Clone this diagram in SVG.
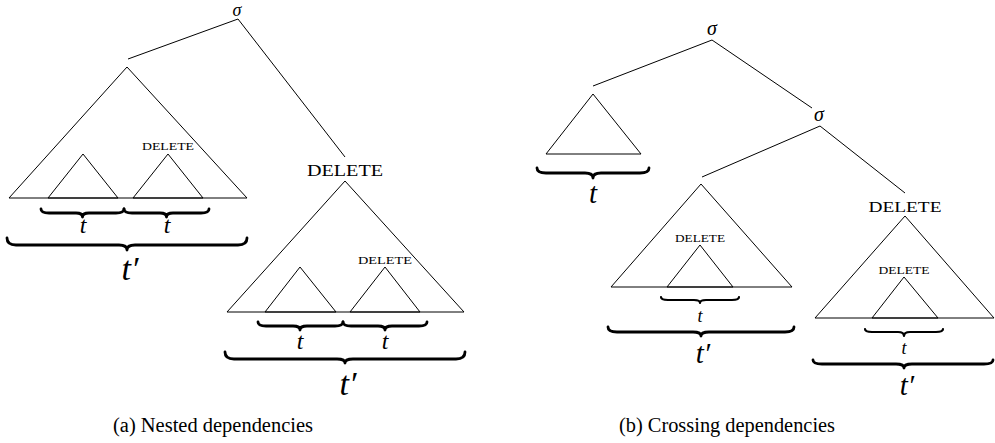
<svg xmlns="http://www.w3.org/2000/svg" width="995" height="443" viewBox="0 0 995 443">
  <style>
    .edge { stroke: #000; stroke-width: 1; fill: none; }
    .tri { stroke: #000; stroke-width: 1; fill: none; stroke-linejoin: miter; }
    .brace { stroke: #000; stroke-width: 2.8; fill: none; stroke-linecap: round; stroke-linejoin: round; }
    .brace-s { stroke: #000; stroke-width: 2.2; fill: none; stroke-linecap: round; stroke-linejoin: round; }
    .math { font-family: "Liberation Serif", "DejaVu Serif", serif; font-style: italic; fill: #000; text-anchor: middle; }
    .sc { font-family: "Liberation Serif", "DejaVu Serif", serif; fill: #000; text-anchor: middle; }
    .cap { font-family: "Liberation Serif", "DejaVu Serif", serif; font-size: 20px; fill: #000; }
  </style>

  <!-- ===== (a) nested dependencies ===== -->
  <g id="a-root">
    <text class="math" x="237" y="16" font-size="18">σ</text>
  </g>
  <g id="a-left-subtree">
    <polygon class="tri" points="127,67 9,198 247,198"/>
    <polygon class="tri" points="83,154 48,198 118,198"/>
    <text class="sc" x="168" y="150" font-size="11" textLength="52" lengthAdjust="spacingAndGlyphs">DELETE</text>
    <polygon class="tri" points="168,154 133,198 203,198"/>
  </g>
  <g id="a-left-braces">
    <path class="brace" d="M41,209 Q41,213 49,213 L76,213 Q82.5,213 82.5,217 Q82.5,213 89,213 L116,213 Q124,213 124,209"/>
    <path class="brace" d="M124,209 Q124,213 132,213 L160,213 Q166.5,213 166.5,217 Q166.5,213 173,213 L201,213 Q209,213 209,209"/>
    <text class="math" x="83" y="233" font-size="24">t</text>
    <text class="math" x="167" y="233" font-size="24">t</text>
    <path class="brace" d="M7,238 Q7,245 16,245 L119,245 Q127,245 127,250 Q127,245 135,245 L238,245 Q247,245 247,238"/>
    <text class="math" x="130" y="280" font-size="34">t′</text>
  </g>
  <g id="a-right-subtree">
    <text class="sc" x="345" y="176" font-size="16" textLength="76" lengthAdjust="spacingAndGlyphs">DELETE</text>
    <polygon class="tri" points="345,181 227,312 464,312"/>
    <polygon class="tri" points="300,267 265,312 336,312"/>
    <text class="sc" x="385" y="264" font-size="11" textLength="54" lengthAdjust="spacingAndGlyphs">DELETE</text>
    <polygon class="tri" points="385,267 350,312 420,312"/>
  </g>
  <g id="a-right-braces">
    <path class="brace" d="M258,322 Q258,326 266,326 L293,326 Q300,326 300,330 Q300,326 307,326 L335,326 Q343,326 343,322"/>
    <path class="brace" d="M343,322 Q343,326 351,326 L378,326 Q385,326 385,330 Q385,326 392,326 L419,326 Q427,326 427,322"/>
    <text class="math" x="300" y="349" font-size="24">t</text>
    <text class="math" x="385" y="349" font-size="24">t</text>
    <path class="brace" d="M225,352 Q225,359 234,359 L337,359 Q345,359 345,363 Q345,359 353,359 L456,359 Q465,359 465,352"/>
    <text class="math" x="348" y="395" font-size="34">t′</text>
  </g>

  <!-- ===== (b) crossing dependencies ===== -->
  <g id="b-root">
    <text class="math" x="712" y="35" font-size="20">σ</text>
  </g>
  <g id="b-inner">
    <text class="math" x="819" y="121" font-size="20">σ</text>
  </g>
  <g id="b-left-subtree">
    <polygon class="tri" points="593,94 546,154 641,154"/>
    <path class="brace" d="M537,168 Q537,173 546,173 L585,173 Q593,173 593,178 Q593,173 601,173 L640,173 Q649,173 649,168"/>
    <text class="math" x="593" y="203" font-size="29">t</text>
  </g>
  <g id="b-middle-subtree">
    <polygon class="tri" points="701,184 611,287 792,287"/>
    <text class="sc" x="700" y="242" font-size="10.5" textLength="50" lengthAdjust="spacingAndGlyphs">DELETE</text>
    <polygon class="tri" points="700,245 667,287 733,287"/>
    <path class="brace-s" d="M661,297 Q661,300 668,300 L694,300 Q700,300 700,303 Q700,300 706,300 L732,300 Q739,300 739,297"/>
    <text class="math" x="700" y="322" font-size="18">t</text>
    <path class="brace" d="M608,327 Q608,332 617,332 L693,332 Q701,332 701,336 Q701,332 709,332 L785,332 Q794,332 794,327"/>
    <text class="math" x="703" y="363" font-size="29">t′</text>
  </g>
  <g id="b-right-subtree">
    <text class="sc" x="905" y="212" font-size="15.5" textLength="73" lengthAdjust="spacingAndGlyphs">DELETE</text>
    <polygon class="tri" points="905,216 815,318 994,318"/>
    <text class="sc" x="904" y="274" font-size="10.5" textLength="51" lengthAdjust="spacingAndGlyphs">DELETE</text>
    <polygon class="tri" points="904,277 872,318 938,318"/>
    <path class="brace-s" d="M865,329 Q865,332 872,332 L898,332 Q904,332 904,336 Q904,332 910,332 L936,332 Q943,332 943,329"/>
    <text class="math" x="904" y="354" font-size="18">t</text>
    <path class="brace" d="M813,360 Q813,364 822,364 L896,364 Q904,364 904,368 Q904,364 912,364 L984,364 Q993,364 993,360"/>
    <text class="math" x="907" y="395" font-size="29">t′</text>
  </g>

  <!-- tree edges -->
  <g id="connectors">
    <line class="edge" x1="238" y1="19" x2="128" y2="59"/>
    <line class="edge" x1="238" y1="19" x2="345" y2="157"/>
    <line class="edge" x1="712" y1="40" x2="593" y2="86"/>
    <line class="edge" x1="712" y1="40" x2="812" y2="108"/>
    <line class="edge" x1="820" y1="126" x2="702" y2="177"/>
    <line class="edge" x1="820" y1="126" x2="905" y2="193"/>
  </g>

  <!-- captions -->
  <text class="cap" x="113" y="432" textLength="200" lengthAdjust="spacingAndGlyphs">(a) Nested dependencies</text>
  <text class="cap" x="619" y="432" textLength="216" lengthAdjust="spacingAndGlyphs">(b) Crossing dependencies</text>
</svg>
